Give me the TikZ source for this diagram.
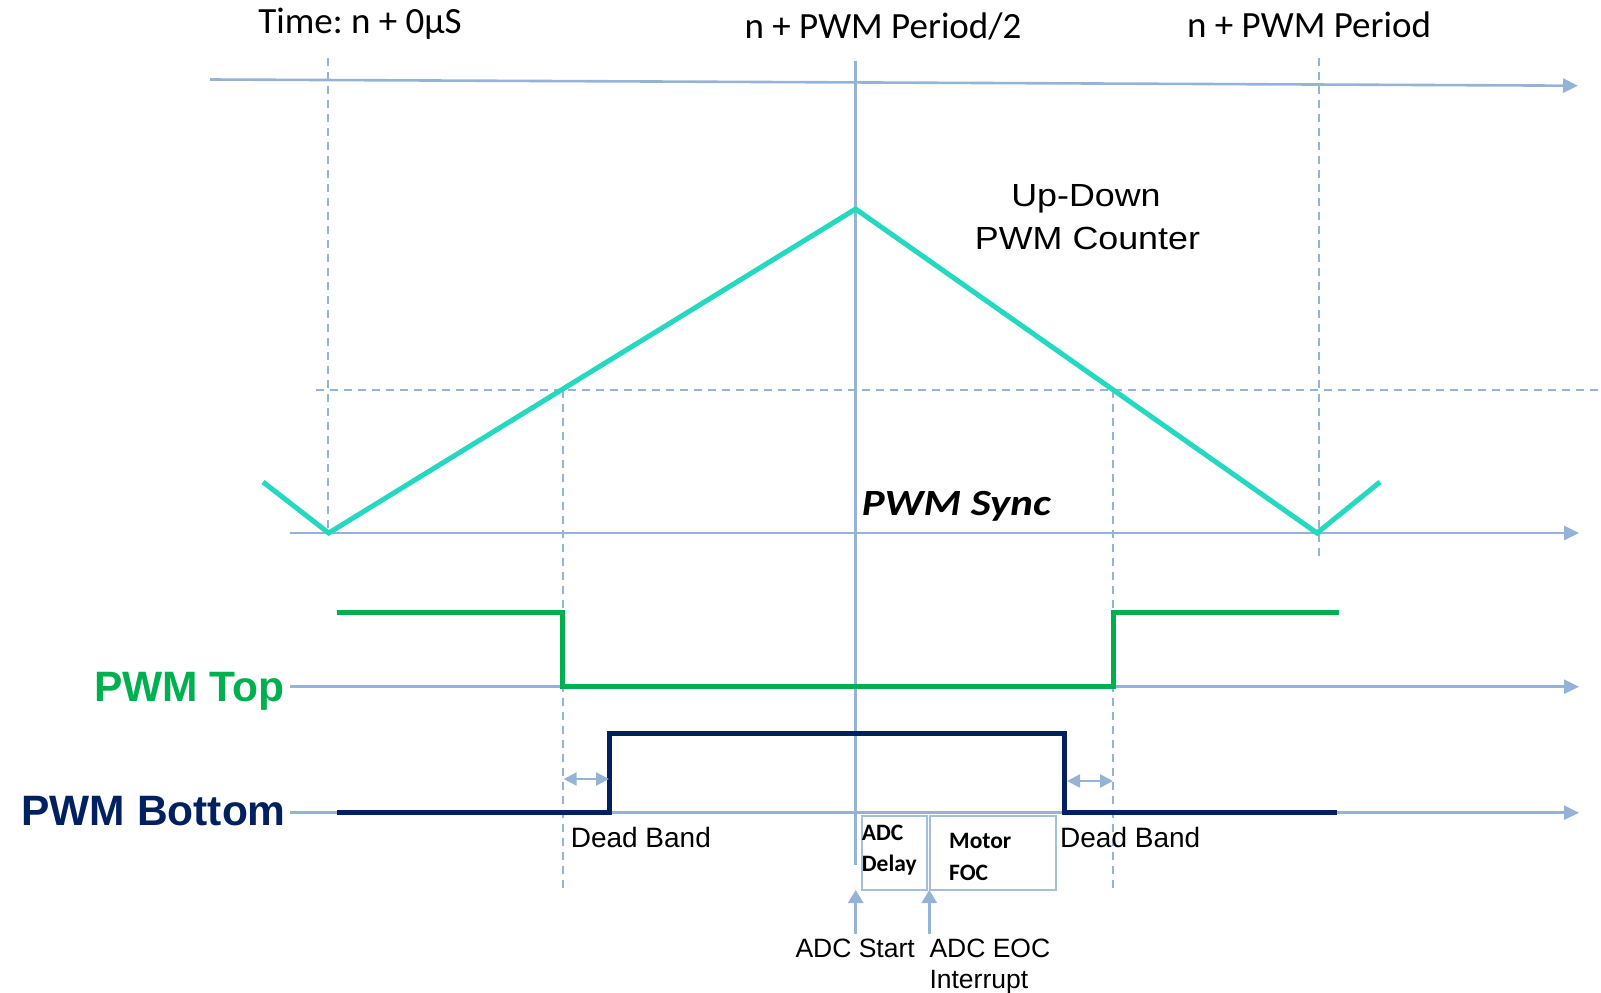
\documentclass[tikz,border=0pt]{standalone}
\usepackage{fontspec}
\setmainfont{Liberation Sans}
\newfontfamily\calibrifont{Carlito}
\newfontfamily\calibriwide{Carlito}[FakeStretch=1.16]
\newfontfamily\arialfont{Liberation Sans}
\newfontfamily\arialwide{Liberation Sans}[FakeStretch=1.12]
\usetikzlibrary{arrows.meta}

\definecolor{axisblue}{RGB}{149,179,215}
\definecolor{boxblue}{RGB}{165,190,222}
\definecolor{counterteal}{RGB}{36,217,192}
\definecolor{topgreen}{RGB}{0,176,80}
\definecolor{botnavy}{RGB}{0,32,96}

\tikzset{
  axisline/.style={draw=axisblue, line width=2.6pt, -{Triangle[length=15pt,width=14pt]}},
  guide/.style={draw=axisblue, line width=2.2pt, dash pattern=on 8pt off 6pt},
  marker/.style={draw=axisblue, line width=2.4pt},
  wave/.style={line width=5pt, line join=miter},
  gapmark/.style={draw=axisblue, line width=2.4pt,
    {Triangle[length=13pt,width=13pt]}-{Triangle[length=13pt,width=13pt]}},
  eventarrow/.style={draw=axisblue, line width=2.6pt, -{Triangle[length=13pt,width=15pt]}},
  taskbox/.style={draw=boxblue, line width=2pt, inner sep=0pt, anchor=north west},
  lbl/.style={inner sep=0pt, anchor=base},
  lblw/.style={inner sep=0pt, anchor=base west},
  lble/.style={inner sep=0pt, anchor=base east},
  timefont/.style={font=\calibrifont\frenchspacing\fontsize{37}{44}\selectfont},
  notefont/.style={font=\arialfont\fontsize{28}{33}\selectfont},
  eventfont/.style={font=\arialfont\fontsize{26.5}{31}\selectfont},
  taskfont/.style={font=\calibrifont\bfseries\fontsize{23.5}{28}\selectfont},
  counterfont/.style={font=\arialwide\fontsize{32}{38}\selectfont},
}

\begin{document}
\begin{tikzpicture}[x=1pt,y=-1pt]
\useasboundingbox (0,0) rectangle (1601,993);

% ---- reference points ----
\coordinate (tAxisL) at (210,79.5);
\coordinate (tAxisR) at (1578,85.7);
\coordinate (syncL) at (290,533);
\coordinate (syncR) at (1579,533);
\coordinate (topL) at (290,686.7);
\coordinate (topR) at (1579,686.7);
\coordinate (botL) at (290,812.7);
\coordinate (botR) at (1579,812.7);

\coordinate (v0top) at (328,58);    \coordinate (v0bot) at (328,533);
\coordinate (v2top) at (1319,58);   \coordinate (v2bot) at (1319,557);
\coordinate (midtop) at (855.6,61); \coordinate (midbot) at (855.6,865);
\coordinate (thL) at (316,390);     \coordinate (thR) at (1601,390);
\coordinate (dbLtop) at (562.6,390);  \coordinate (dbLbot) at (562.6,888);
\coordinate (dbRtop) at (1113,390);   \coordinate (dbRbot) at (1113,888);

% ---- guide lines ----
\draw[guide] (v0top) -- (v0bot);
\draw[guide] (v2top) -- (v2bot);
\draw[guide] (thL) -- (thR);
\draw[guide] (dbLtop) -- (dbLbot);
\draw[guide] (dbRtop) -- (dbRbot);
\draw[marker] (midtop) -- (midbot);

% ---- axes ----
\draw[axisline] (tAxisL) -- (tAxisR);
\draw[axisline] (syncL) -- (syncR);
\draw[axisline] (topL) -- (topR);
\draw[axisline] (botL) -- (botR);

% ---- up-down counter ----
\draw[wave, draw=counterteal]
  (263,482) -- (328.7,533) -- (855.6,209) -- (1317,533) -- (1380,482);

% ---- PWM top output ----
\draw[wave, draw=topgreen]
  (337,612.7) -- (562.6,612.7) -- (562.6,686.7) -- (1113,686.7)
  -- (1113,612.7) -- (1338.7,612.7);

% ---- PWM bottom output ----
\draw[wave, draw=botnavy]
  (337,812.7) -- (609.5,812.7) -- (609.5,733) -- (1064.5,733)
  -- (1064.5,812.7) -- (1337,812.7);

% ---- dead band markers ----
\coordinate (dbA1) at (563.7,779); \coordinate (dbA2) at (609,779);
\coordinate (dbB1) at (1067,781);  \coordinate (dbB2) at (1113,781);
\draw[gapmark] (dbA1) -- (dbA2);
\draw[gapmark] (dbB1) -- (dbB2);

% ---- ADC / FOC task boxes ----
\node[taskbox, minimum width=65pt, minimum height=73.4pt] (delaybox) at (860.7,815.3) {};
\node[taskbox, minimum width=126pt, minimum height=73.4pt] (focbox) at (929.3,815.3) {};

\coordinate (startTail) at (855.7,934); \coordinate (startTip) at (855.7,890);
\coordinate (eocTail) at (929.3,934);   \coordinate (eocTip) at (929.3,890);
\draw[eventarrow] (startTail) -- (startTip);
\draw[eventarrow] (eocTail) -- (eocTip);

% ---- time labels ----
\node[lbl, timefont] (time0) at (360,33) {Time: n + 0µS};
\node[lbl, timefont] (timeHalf) at (883,38) {n + PWM Period/2};
\node[lbl, timefont] (timeFull) at (1309,37) {n + PWM Period};

% ---- counter label ----
\node[lbl, counterfont] (cnt1) at (1086,206) {Up-Down};
\node[lbl, counterfont] (cnt2) at (1087.5,249) {PWM Counter};

% ---- sync label ----
\node[lblw, font=\calibriwide\bfseries\itshape\fontsize{37}{44}\selectfont] (sync) at (861.7,515) {PWM Sync};

% ---- signal names ----
\node[lble, font=\arialfont\bfseries\fontsize{42.5}{50}\selectfont, text=topgreen] (topname) at (284.7,701.7) {PWM Top};
\node[lble, font=\arialfont\bfseries\fontsize{42.5}{50}\selectfont, text=botnavy] (botname) at (286,825) {PWM Bottom};

% ---- dead band labels ----
\node[lblw, notefont] (dbLtext) at (570.6,847) {Dead Band};
\node[lblw, notefont] (dbRtext) at (1060,847) {Dead Band};

% ---- task labels ----
\node[lblw, taskfont] (adc1) at (861.7,840.7) {ADC};
\node[lblw, taskfont] (adc2) at (861.7,871.7) {Delay};
\node[lblw, taskfont] (foc1) at (949,848.3) {Motor};
\node[lblw, taskfont] (foc2) at (949,880) {FOC};

% ---- event labels ----
\node[lble, eventfont] (adcstart) at (915,957.5) {ADC Start};
\node[lblw, eventfont] (eoc1) at (929.3,957.5) {ADC EOC};
\node[lblw, eventfont] (eoc2) at (929.3,988) {Interrupt};
\end{tikzpicture}
\end{document}
